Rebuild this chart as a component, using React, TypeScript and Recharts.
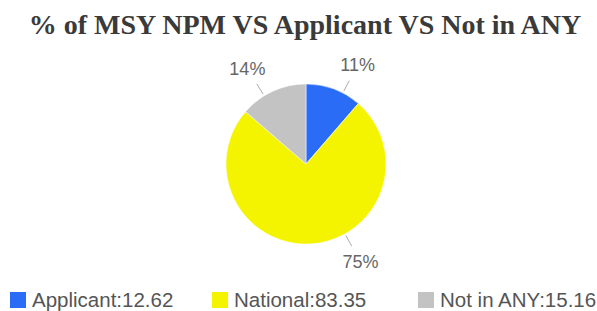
import { Legend, Pie, PieChart, Cell } from "recharts";

const categories = ["Applicant", "National", "Not in ANY"];
const values = [12.62, 83.35, 15.16];
const colors = ["#2b6cf6", "#f4f400", "#c3c3c3"];
const labelAngleShift = [-7, 25, 7];
const legendLefts = [10, 212, 418];

const data = categories.map((name, i) => ({ name, value: values[i] }));
const total = values.reduce((a, b) => a + b, 0);

const RAD = Math.PI / 180;

function renderLabel(props: any) {
  const { cx, cy, outerRadius, midAngle, index, value } = props;
  const angle = (midAngle + labelAngleShift[index]) * RAD;
  const p = (r: number) => ({ x: cx + r * Math.cos(angle), y: cy - r * Math.sin(angle) });
  const a = p(outerRadius + 2);
  const b = p(outerRadius + 14);
  const t = p(outerRadius + 32);
  return (
    <g>
      <line x1={a.x} y1={a.y} x2={b.x} y2={b.y} stroke="#aaa" strokeWidth={1} />
      <text x={t.x} y={t.y} textAnchor="middle" dominantBaseline="central" fill="#666" fontSize={18} fontFamily="Liberation Sans, Arial, sans-serif">
        {`${Math.round((value / total) * 100)}%`}
      </text>
    </g>
  );
}

function renderLegend(props: any) {
  const payload = props.payload || [];
  return (
    <div style={{ position: "relative", width: 597, height: 24 }}>
      {payload.map((entry: any, i: number) => (
        <div key={entry.value} style={{ position: "absolute", left: legendLefts[i], top: 0, display: "flex", alignItems: "center", height: 24 }}>
          <span style={{ display: "inline-block", width: 16, height: 16, background: entry.color, marginRight: 6 }} />
          <span style={{ fontSize: 20.5, color: "#555", fontFamily: "Liberation Sans, Arial, sans-serif", whiteSpace: "nowrap" }}>
            {`${entry.value}:${values[categories.indexOf(entry.value)]}`}
          </span>
        </div>
      ))}
    </div>
  );
}

export default function App() {
  return (
    <div style={{ position: "absolute", left: 0, top: 0, width: 597, height: 311, background: "#fff" }}>
      <div style={{ position: "absolute", left: 0, top: 9, width: 610, textAlign: "center", fontFamily: "Liberation Serif, Times New Roman, serif", fontWeight: "bold", fontSize: 28, color: "#3a3a3a", whiteSpace: "nowrap" }}>
        % of MSY NPM VS Applicant VS Not in ANY
      </div>
      <PieChart width={597} height={311}>
        <Pie
          data={data}
          dataKey="value"
          nameKey="name"
          cx={301}
          cy={159}
          outerRadius={80}
          startAngle={90}
          endAngle={-270}
          stroke="#fff"
          strokeWidth={0.5}
          label={renderLabel}
          labelLine={false}
          isAnimationActive={false}
        >
          {data.map((d, i) => (
            <Cell key={d.name} fill={colors[i]} />
          ))}
        </Pie>
        <Legend content={renderLegend} wrapperStyle={{ left: 0, top: 288, width: 597 }} />
      </PieChart>
    </div>
  );
}
